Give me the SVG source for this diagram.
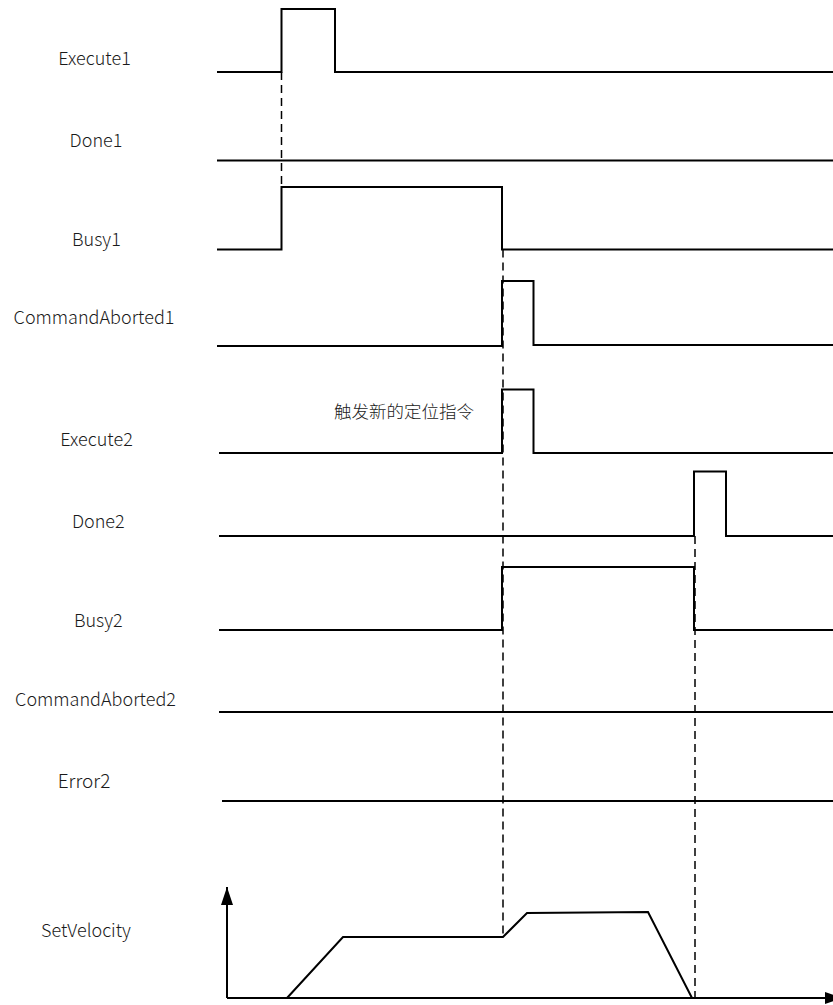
<svg xmlns="http://www.w3.org/2000/svg" width="833" height="1005" viewBox="0 0 833 1005">
<style>
.lbl{font-family:"Noto Sans CJK SC","Noto Sans",sans-serif;font-size:18px;font-weight:300;fill:#1a1a1a;text-anchor:middle}
.sig{fill:none;stroke:#000;stroke-width:2;stroke-linejoin:miter}
.dash{fill:none;stroke:#000;stroke-width:1.5;stroke-dasharray:8 5}
</style>
<defs>
<marker id="arr" viewBox="0 0 18 12" refX="18" refY="6" markerWidth="18" markerHeight="12" orient="auto" markerUnits="userSpaceOnUse">
<path d="M0,0 L18,6 L0,12 Z" fill="#000"/>
</marker>
</defs>
<rect width="833" height="1005" fill="#fff"/>
<g id="labels">
<text id="execute1" class="lbl" x="94.5" y="65">Execute1</text>
<text id="done1" class="lbl" x="96" y="147">Done1</text>
<text id="busy1" class="lbl" x="96.4" y="246">Busy1</text>
<text id="commandaborted1" class="lbl" x="94" y="324">CommandAborted1</text>
<text id="execute2" class="lbl" x="96.5" y="446">Execute2</text>
<text id="done2" class="lbl" x="98.3" y="528">Done2</text>
<text id="busy2" class="lbl" x="98.3" y="627">Busy2</text>
<text id="commandaborted2" class="lbl" x="95.5" y="706">CommandAborted2</text>
<text id="error2" class="lbl" x="84" y="788" style="font-size:19px">Error2</text>
<text id="setvelocity" class="lbl" x="86" y="937">SetVelocity</text>
<text id="note" class="lbl" x="404" y="418" style="font-size:17.5px">触发新的定位指令</text>
</g>
<g id="signals">
<path id="sig-execute1" class="sig" d="M217,72 H281.5 V9 H335 V72 H833"/>
<path id="sig-done1" class="sig" d="M217,160.5 H833"/>
<path id="sig-busy1" class="sig" d="M217,249.5 H281.5 V187 H502 V249.5 H833"/>
<path id="sig-ca1" class="sig" d="M217,346 H502 V281 H533.5 V345 H833"/>
<path id="sig-execute2" class="sig" d="M219,453 H502 V389.5 H533.5 V453 H833"/>
<path id="sig-done2" class="sig" d="M219,536 H694 V471.5 H726 V536 H833"/>
<path id="sig-busy2" class="sig" d="M219,630 H502 V567 H694 V630 H833"/>
<path id="sig-ca2" class="sig" d="M219,712 H833"/>
<path id="sig-error2" class="sig" d="M222,801 H833"/>
</g>
<g id="velocity">
<path id="v-yaxis" class="sig" d="M227,998 V887" marker-end="url(#arr)"/>
<path id="v-xaxis" class="sig" d="M227,998 H843" marker-end="url(#arr)"/>
<path id="v-profile" class="sig" d="M287,998 L343,937 L503,937 L527,913 L648,912 L692,998"/>
</g>
<g id="connectors">
<path class="dash" d="M281.5,72 V187"/>
<path class="dash" d="M503,249.5 V937"/>
<path class="dash" d="M695,536 V998"/>
</g>
</svg>
